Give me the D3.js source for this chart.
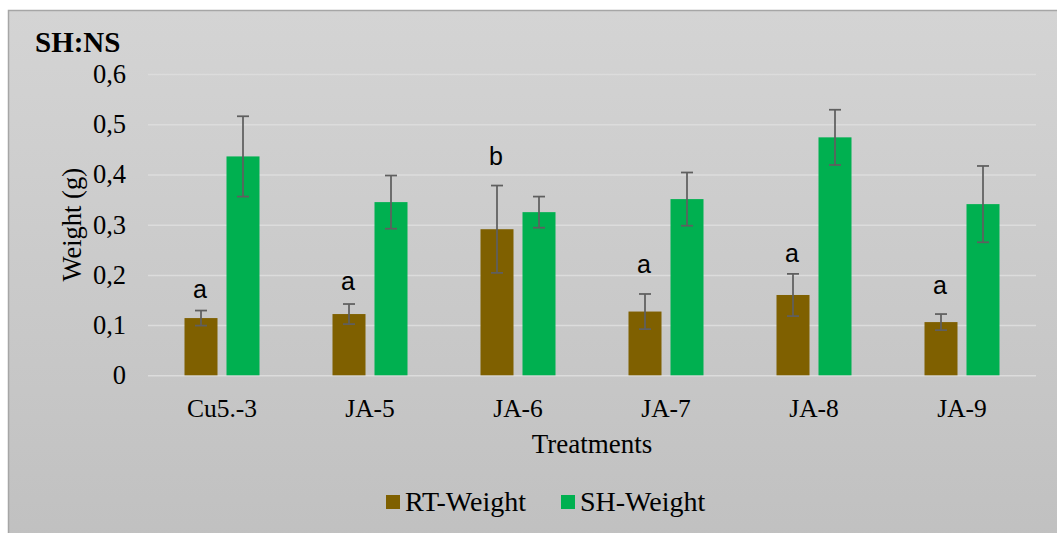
<!DOCTYPE html>
<html>
<head>
<meta charset="utf-8">
<script src="https://cdn.jsdelivr.net/npm/d3@7/dist/d3.min.js"></script>
<style>
  html, body { margin: 0; padding: 0; background: #ffffff; }
  svg { display: block; }
</style>
</head>
<body>
<script>
// ---------- data ----------
const categories = ["Cu5.-3", "JA-5", "JA-6", "JA-7", "JA-8", "JA-9"];
const seriesNames = ["RT-Weight", "SH-Weight"];
const rtWeight = [0.114, 0.122, 0.291, 0.127, 0.160, 0.106];
const rtError  = [0.015, 0.020, 0.087, 0.035, 0.042, 0.016];
const shWeight = [0.436, 0.345, 0.325, 0.351, 0.474, 0.341];
const shError  = [0.080, 0.053, 0.031, 0.053, 0.055, 0.076];
const letters  = ["a", "a", "b", "a", "a", "a"];
const letterLevels = [0.154, 0.170, 0.419, 0.203, 0.225, 0.162];
const yTicks = [0, 0.1, 0.2, 0.3, 0.4, 0.5, 0.6];
const tickLabels = ["0", "0,1", "0,2", "0,3", "0,4", "0,5", "0,6"];
const chartTitle = "SH:NS";
const yTitle = "Weight (g)";
const xTitle = "Treatments";
const colors = ["#7F6000", "#00B050"];

// ---------- layout ----------
const W = 1057, H = 533;
const plot = { left: 148, right: 1036, top: 74.1, bottom: 375.3 };
const serif = "'Liberation Serif', 'Times New Roman', serif";
const sans = "'Liberation Sans', Arial, sans-serif";

const svg = d3.select("body").append("svg").attr("width", W).attr("height", H);

const defs = svg.append("defs");
const grad = defs.append("linearGradient").attr("id", "bg").attr("x1", 0).attr("y1", 0).attr("x2", 0).attr("y2", 1);
grad.append("stop").attr("offset", "0%").attr("stop-color", "#d4d4d4");
grad.append("stop").attr("offset", "100%").attr("stop-color", "#c0c0c0");

svg.append("rect").attr("x", 8.5).attr("y", 10.5).attr("width", W + 10).attr("height", H + 10)
  .attr("fill", "url(#bg)").attr("stroke", "#a6a6a6").attr("stroke-width", 1.5);

const x0 = d3.scaleBand().domain(categories).range([plot.left, plot.right]).paddingInner(0).paddingOuter(0);
const x1 = d3.scaleBand().domain(seriesNames).range([0, x0.bandwidth()]).paddingInner(0.2143).paddingOuter(0.869);
const y = d3.scaleLinear().domain([0, 0.6]).range([plot.bottom, plot.top]);

// gridlines + y tick labels via axis
const yAxis = d3.axisLeft(y).tickValues(yTicks).tickFormat((d, i) => tickLabels[i])
  .tickSize(-(plot.right - plot.left)).tickPadding(22);
const gy = svg.append("g").attr("transform", `translate(${plot.left},0)`).call(yAxis);
gy.select(".domain").remove();
gy.selectAll(".tick line").attr("stroke", "#dcdcdc").attr("stroke-width", 1.5);
gy.selectAll(".tick text").attr("fill", "#000").style("font-family", serif).style("font-size", "26.5px");

// x axis labels
const xAxis = d3.axisBottom(x0).tickSize(0).tickPadding(24);
const gx = svg.append("g").attr("transform", `translate(0,${plot.bottom})`).call(xAxis);
gx.select(".domain").remove();
gx.selectAll(".tick text").attr("fill", "#000").style("font-family", serif).style("font-size", "25.5px");

// bars
const rows = categories.map((c, i) => ({
  cat: c,
  vals: [
    { s: seriesNames[0], v: rtWeight[i], e: rtError[i], c: colors[0] },
    { s: seriesNames[1], v: shWeight[i], e: shError[i], c: colors[1] }
  ]
}));
const groups = svg.append("g").selectAll("g").data(rows).join("g")
  .attr("transform", d => `translate(${x0(d.cat)},0)`);
groups.selectAll("rect").data(d => d.vals).join("rect")
  .attr("x", d => x1(d.s)).attr("width", x1.bandwidth())
  .attr("y", d => y(d.v)).attr("height", d => y(0) - y(d.v))
  .attr("fill", d => d.c);

// error bars
const eb = groups.selectAll("g.err").data(d => d.vals).join("g").attr("class", "err")
  .attr("stroke", "#5f5f5f").attr("stroke-width", 1.75);
eb.append("line")
  .attr("x1", d => x1(d.s) + x1.bandwidth() / 2).attr("x2", d => x1(d.s) + x1.bandwidth() / 2)
  .attr("y1", d => y(d.v + d.e)).attr("y2", d => y(d.v - d.e));
eb.append("line")
  .attr("x1", d => x1(d.s) + x1.bandwidth() / 2 - 6).attr("x2", d => x1(d.s) + x1.bandwidth() / 2 + 6)
  .attr("y1", d => y(d.v + d.e)).attr("y2", d => y(d.v + d.e));
eb.append("line")
  .attr("x1", d => x1(d.s) + x1.bandwidth() / 2 - 6).attr("x2", d => x1(d.s) + x1.bandwidth() / 2 + 6)
  .attr("y1", d => y(d.v - d.e)).attr("y2", d => y(d.v - d.e));

// letters
svg.append("g").selectAll("text").data(categories).join("text")
  .attr("x", (c) => x0(c) + x1(seriesNames[0]) + x1.bandwidth() / 2 - 1)
  .attr("y", (c, i) => y(letterLevels[i]))
  .attr("text-anchor", "middle")
  .style("font-family", sans).style("font-size", "25px").attr("fill", "#000")
  .text((c, i) => letters[i]);

// titles
svg.append("text").attr("x", 35).attr("y", 52).text(chartTitle)
  .style("font-family", serif).style("font-size", "29px").style("font-weight", "bold").attr("fill", "#000");
svg.append("text").attr("transform", `translate(81,${(plot.top + plot.bottom) / 2}) rotate(-90)`)
  .attr("text-anchor", "middle").text(yTitle)
  .style("font-family", serif).style("font-size", "26.5px").attr("fill", "#000");
svg.append("text").attr("x", (plot.left + plot.right) / 2).attr("y", 453).attr("text-anchor", "middle")
  .text(xTitle).style("font-family", serif).style("font-size", "27px").attr("fill", "#000");

// legend
const legendX = [386, 561];
const lg = svg.append("g").selectAll("g").data(seriesNames).join("g")
  .attr("transform", (d, i) => `translate(${legendX[i]},495)`);
lg.append("rect").attr("width", 14).attr("height", 14).attr("fill", (d, i) => colors[i]);
lg.append("text").attr("x", 19).attr("y", 16).text(d => d)
  .style("font-family", serif).style("font-size", "28px").attr("fill", "#000");
</script>
</body>
</html>
